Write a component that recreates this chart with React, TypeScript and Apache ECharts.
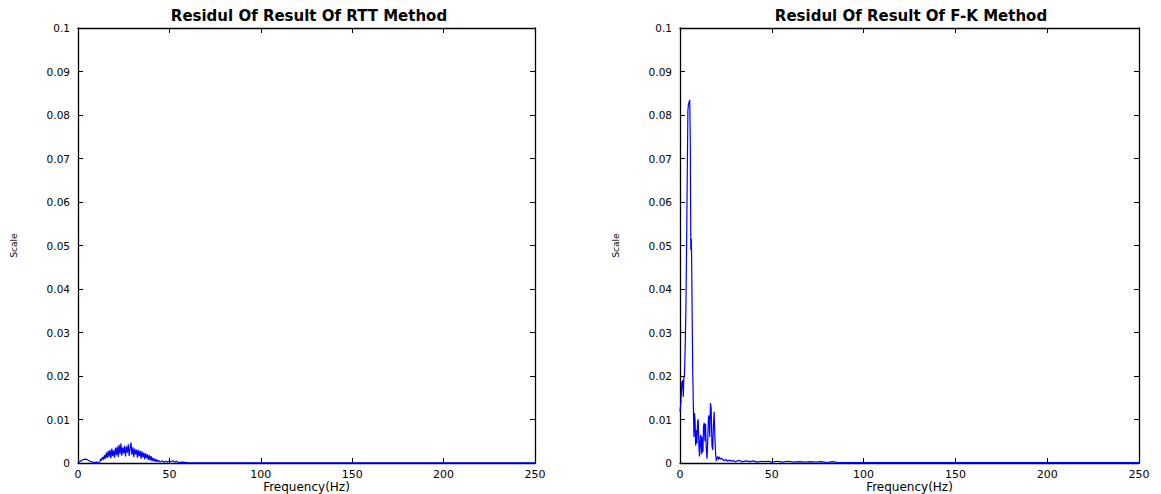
import React, { useEffect, useRef } from "react";
import * as echarts from "echarts";

const titles = ["Residul Of Result Of RTT Method", "Residul Of Result Of F-K Method"];
const xName = "Frequency(Hz)";
const yName = "Scale";

// RTT residual
const rttFreq = [
  0, 1, 2, 3, 4, 5, 6, 7, 8, 9, 10, 11, 12, 12.5, 13, 13.5, 14, 14.5, 15, 15.5, 16, 16.5, 17, 17.5,
  18, 18.5, 19, 19.5, 20, 20.5, 21, 21.5, 22, 22.5, 23, 23.5, 24, 24.5, 25, 25.5, 26, 26.5, 27,
  27.5, 28, 28.5, 29, 29.5, 30, 30.5, 31, 31.5, 32, 32.5, 33, 33.5, 34, 34.5, 35, 35.5, 36, 36.5,
  37, 37.5, 38, 38.5, 39, 39.5, 40, 40.5, 41, 41.5, 42, 42.5, 43, 43.5, 44, 45, 46, 47, 48, 49,
  50, 51, 52, 53, 54, 55, 57, 60, 100, 150, 200, 250,
];
const rttVal = [
  0.0002, 0.0003, 0.0006, 0.0008, 0.0009, 0.0008, 0.0005, 0.0003, 0.0002, 0.0001, 0.0002, 0.0001,
  0.0003, 0.0010, 0.0006, 0.0014, 0.0008, 0.0018, 0.0010, 0.0024, 0.0012, 0.0028, 0.0014, 0.0030,
  0.0011, 0.0033, 0.0016, 0.0029, 0.0012, 0.0035, 0.0018, 0.0038, 0.0014, 0.0042, 0.0020, 0.0045,
  0.0017, 0.0036, 0.0022, 0.0040, 0.0015, 0.0038, 0.0024, 0.0043, 0.0016, 0.0034, 0.0047, 0.0019,
  0.0036, 0.0014, 0.0033, 0.0020, 0.0031, 0.0012, 0.0030, 0.0016, 0.0028, 0.0010, 0.0027, 0.0013,
  0.0024, 0.0009, 0.0022, 0.0011, 0.0020, 0.0007, 0.0018, 0.0006, 0.0016, 0.0005, 0.0012, 0.0004,
  0.0010, 0.0003, 0.0008, 0.0003, 0.0006, 0.0002, 0.0005, 0.0002, 0.0004, 0.0002, 0.0005, 0.0003,
  0.0005, 0.0002, 0.0004, 0.0001, 0.0002, 0.0001, 0.00005, 0.00005, 0.00005, 0.00005, 0.00005,
];

// F-K residual
const fkFreq = [
  0, 0.5, 1.0, 1.4, 1.8, 2.1, 2.4, 2.8, 3.2, 3.6, 4.0, 4.3, 4.6, 5.0, 5.3, 5.6, 5.9, 6.2, 6.5, 6.9,
  7.3, 7.6, 7.9, 8.2, 8.5, 8.9, 9.2, 9.6, 9.9, 10.3, 10.6, 11.0, 11.3, 11.7, 12.1, 12.5, 12.8, 13.2,
  13.6, 13.9, 14.3, 14.7, 15.1, 15.5, 15.9, 16.2, 16.6, 17.0, 17.4, 17.8, 18.2, 18.6, 19.0, 19.4,
  19.8, 20.2, 20.6, 21.0, 21.5, 22, 23, 24, 25, 26, 27, 28, 29, 30, 32, 34, 36, 38, 40, 42, 44, 46,
  48, 50, 53, 56, 59, 62, 65, 68, 71, 74, 77, 80, 83, 86, 90, 250,
];
const fkVal = [
  0.0118, 0.014, 0.0185, 0.019, 0.0152, 0.0195, 0.02, 0.026, 0.035, 0.05, 0.068, 0.081, 0.0825,
  0.083, 0.0835, 0.074, 0.049, 0.0515, 0.04, 0.022, 0.0125, 0.006, 0.0115, 0.01, 0.004, 0.0075,
  0.0045, 0.0095, 0.01, 0.004, 0.0015, 0.0055, 0.0065, 0.002, 0.006, 0.0025, 0.0085, 0.0092, 0.005,
  0.009, 0.0035, 0.001, 0.005, 0.0105, 0.011, 0.006, 0.0138, 0.0125, 0.004, 0.003, 0.0085, 0.0118,
  0.006, 0.002, 0.0005, 0.0012, 0.0015, 0.0008, 0.0014, 0.0009, 0.001, 0.0005, 0.0008, 0.0004,
  0.0007, 0.0004, 0.0006, 0.0003, 0.0006, 0.0003, 0.0005, 0.0003, 0.0005, 0.0002, 0.0004, 0.0003,
  0.0004, 0.0002, 0.0004, 0.0002, 0.0004, 0.0002, 0.0003, 0.0002, 0.0003, 0.0002, 0.0003, 0.0001,
  0.0003, 0.0001, 0.0001, 0.0001,
];

const FONT = "DejaVu Sans";

export default function App() {
  const ref = useRef<HTMLDivElement>(null);
  useEffect(() => {
    if (!ref.current) return;
    const chart = echarts.init(ref.current, null, { renderer: "svg" });
    const grids = [
      { left: 78, top: 28, width: 457, height: 435, outerBoundsMode: "none", containLabel: false },
      { left: 680, top: 28, width: 459, height: 435, outerBoundsMode: "none", containLabel: false },
    ];
    const axisLine = { show: true, onZero: false, lineStyle: { color: "#000", width: 1.3 } };
    const tick = { show: true, inside: true, length: 5, lineStyle: { color: "#000", width: 1 } };
    const xAxes: any[] = [];
    const yAxes: any[] = [];
    grids.forEach((_, i) => {
      xAxes.push({
        type: "value", gridIndex: i, min: 0, max: 250, interval: 50, position: "bottom",
        name: xName, nameLocation: "middle", nameGap: 18, nameMoveOverlap: false,
        nameTextStyle: { fontFamily: FONT, fontSize: 12, color: "#000", verticalAlign: "top" },
        axisLine, axisTick: tick,
        axisLabel: { fontFamily: FONT, fontSize: 11, color: "#000", margin: 6 },
        splitLine: { show: false },
      });
      xAxes.push({
        type: "value", gridIndex: i, min: 0, max: 250, interval: 50, position: "top",
        axisLine, axisTick: tick,
        axisLabel: { show: false }, splitLine: { show: false },
      });
      yAxes.push({
        type: "value", gridIndex: i, min: 0, max: 0.1, interval: 0.01, position: "left",
        name: yName, nameLocation: "middle", nameGap: 60, nameRotate: 90, nameMoveOverlap: false,
        nameTextStyle: { fontFamily: FONT, fontSize: 9, color: "#000" },
        axisLine, axisTick: tick,
        axisLabel: { fontFamily: FONT, fontSize: 10.5, color: "#000", margin: 8 },
        splitLine: { show: false },
      });
      yAxes.push({
        type: "value", gridIndex: i, min: 0, max: 0.1, interval: 0.01, position: "right",
        axisLine, axisTick: tick,
        axisLabel: { show: false }, splitLine: { show: false },
      });
    });
    const mk = (f: number[], v: number[]) => f.map((x, i) => [x, v[i]]);
    const titleStyle = { fontFamily: FONT, fontSize: 15, fontWeight: "bold", color: "#000" };
    chart.setOption({
      animation: false,
      backgroundColor: "#fff",
      title: [
        { text: titles[0], left: 304, top: 3, textAlign: "center", textStyle: titleStyle },
        { text: titles[1], left: 906, top: 3, textAlign: "center", textStyle: titleStyle },
      ],
      grid: grids,
      xAxis: xAxes,
      yAxis: yAxes,
      series: [
        { type: "line", xAxisIndex: 0, yAxisIndex: 0, data: mk(rttFreq, rttVal), showSymbol: false,
          lineStyle: { color: "#0000ff", width: 1.2 }, z: 5 },
        { type: "line", xAxisIndex: 2, yAxisIndex: 2, data: mk(fkFreq, fkVal), showSymbol: false,
          lineStyle: { color: "#0000ff", width: 1.2 }, z: 5 },
      ],
    });
    return () => chart.dispose();
  }, []);
  return (
    <div
      ref={ref}
      style={{ position: "absolute", left: 0, top: 0, width: 1161, height: 494 }}
    />
  );
}
